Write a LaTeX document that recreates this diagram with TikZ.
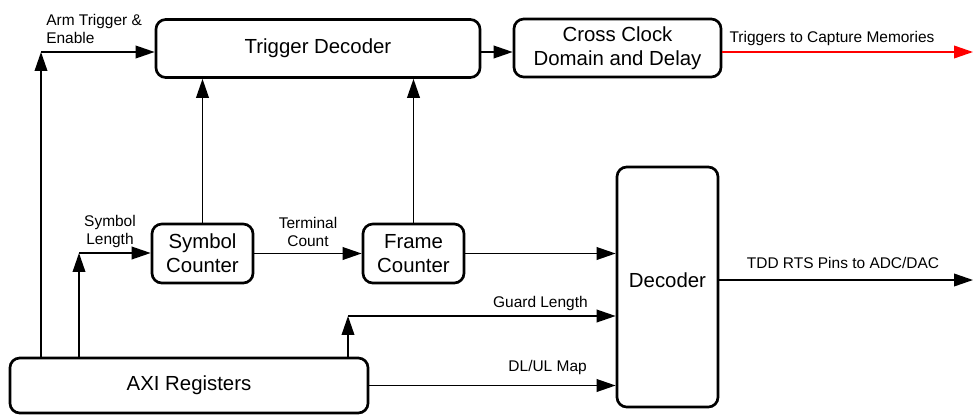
\documentclass[tikz,border=0pt]{standalone}
\usepackage{fontspec}
\setmainfont{Liberation Sans}
\usetikzlibrary{arrows.meta}

\begin{document}
\begin{tikzpicture}[x=0.025cm, y=-0.025cm,
		block/.style={draw, line width=1.9pt, rounded corners=7pt, align=center, inner sep=0pt, font=\fontsize{14.5}{17}\selectfont},
		bigtxt/.style={inner sep=0pt, font=\fontsize{14.5}{17}\selectfont},
		lbl/.style={inner sep=0pt, align=center, font=\fontsize{11}{13}\selectfont},
		wire/.style={line width=1.1pt, -{Triangle[length=13.5pt, width=9pt]}}]
				\useasboundingbox (0,0) rectangle (973,415);
				\node[block, minimum width=8.1cm, minimum height=1.45cm] (trig)at(318, 48.5) {Trigger Decoder};
				\node[block, minimum width=5.175cm, minimum height=1.45cm] (ccd)at(617.5, 48) {Cross Clock\\Domain and Delay};
				\node[block, minimum width=2.525cm, minimum height=1.475cm] (sym)at(202.5, 253.5) {Symbol\\Counter};
				\node[block, minimum width=2.525cm, minimum height=1.475cm] (frame)at(413.5, 253.5) {Frame\\Counter};
				\node[block, minimum width=2.525cm, minimum height=6cm] (dec)at(667.5, 287) {};
				\node[bigtxt] (decname)at(667.5, 280) {Decoder};
				\node[block, minimum width=8.95cm, minimum height=1.375cm] (axi)at(189, 385.5) {AXI Registers};
				\coordinate (armC)at(41, 52);
				\coordinate (symC)at(79, 253);
				\coordinate (grdC)at(348, 316);
				\coordinate (capOut)at(973, 52);
				\coordinate (pinsOut)at(973, 280);
				\draw[wire] (armC |- axi.north) -- (armC);
				\draw[wire] (armC) -- (armC -| trig.west);
				\draw[wire] (symC |- axi.north) -- (symC);
				\draw[wire] (symC) -- (symC -| sym.west);
				\draw[wire] (grdC |- axi.north) -- (grdC);
				\draw[wire] (grdC) -- (grdC -| dec.west);
				\draw[wire] (axi.east) -- (axi.east -| dec.west);
				\draw[wire] (sym) -- (frame);
				\draw[wire] (frame) -- (frame -| dec.west);
				\draw[wire] (sym.north) -- (sym.north |- trig.south);
				\draw[wire] (frame.north) -- (frame.north |- trig.south);
				\draw[wire] (trig.east |- armC) -- (ccd.west |- armC);
				\draw[wire, red] (ccd.east |- capOut) -- (capOut);
				\draw[wire] (dec.east |- pinsOut) -- (pinsOut);
				\node[lbl, align=left, anchor=south west] (armlbl)at(46, 44) {Arm Trigger \&\\Enable};
				\node[lbl, anchor=south] (caplbl)at(832, 46) {Triggers to Capture Memories};
				\node[lbl, anchor=south] (symlbl)at(110, 248) {Symbol\\Length};
				\node[lbl, anchor=south] (termlbl)at(308, 247) {Terminal\\Count};
				\node[lbl, anchor=south east] (grdlbl)at(588, 311) {Guard Length};
				\node[lbl, anchor=south east] (maplbl)at(587, 375) {DL/UL Map};
				\node[lbl, anchor=south] (pinslbl)at(843, 269) {TDD RTS Pins to ADC/DAC};
			\end{tikzpicture}
\end{document}
